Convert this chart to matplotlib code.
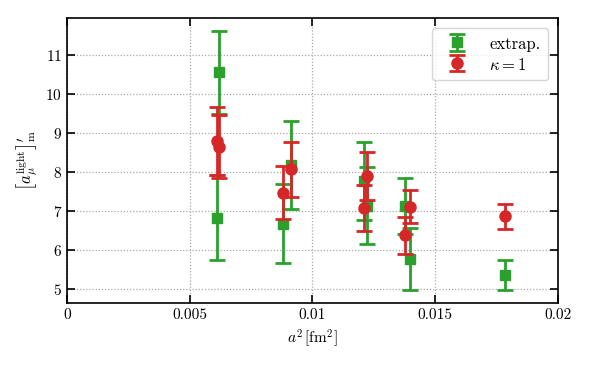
import numpy as np
import matplotlib
matplotlib.use('Agg')
import matplotlib.pyplot as plt
from matplotlib.ticker import FormatStrFormatter

# a^2 in fm^2 and values
a2_extrap = [0.00619, 0.00610, 0.00881, 0.00912, 0.01211, 0.01221, 0.01377, 0.01397, 0.01784]
val_extrap = [10.55, 6.83, 6.67, 8.18, 7.77, 7.13, 7.13, 5.76, 5.36]
err_extrap = [1.07, 1.09, 1.01, 1.13, 1.01, 0.99, 0.72, 0.79, 0.38]

a2_k1 = [0.00610, 0.00620, 0.00881, 0.00912, 0.01211, 0.01221, 0.01377, 0.01397, 0.01784]
val_k1 = [8.80, 8.65, 7.47, 8.07, 7.08, 7.90, 6.37, 7.11, 6.86]
err_k1 = [0.87, 0.81, 0.68, 0.71, 0.59, 0.62, 0.47, 0.42, 0.33]

xticks = [0, 0.005, 0.01, 0.015, 0.02]
yticks = [5, 6, 7, 8, 9, 10, 11]

plt.rcParams['font.family'] = 'serif'
plt.rcParams['font.serif'] = ['cmr10', 'DejaVu Serif']
plt.rcParams['mathtext.fontset'] = 'cm'
plt.rcParams['axes.formatter.use_mathtext'] = True
plt.rcParams['font.size'] = 11

fig = plt.figure(figsize=(5.91, 3.65), dpi=100)
ax = fig.add_axes([0.1134, 0.170, 0.8306, 0.781])

ax.errorbar(a2_extrap, val_extrap, yerr=err_extrap, fmt='s', color='#2ca02c',
            ms=7, elinewidth=2, capsize=6, capthick=2, label='extrap.', zorder=3)
ax.errorbar(a2_k1, val_k1, yerr=err_k1, fmt='o', color='#d62728',
            ms=8, elinewidth=2, capsize=6, capthick=2, label=r'$\kappa=1$', zorder=4)

ax.set_xlim(0, 0.02)
ax.set_ylim(4.64, 11.95)
ax.set_xticks(xticks)
ax.set_yticks(yticks)
ax.xaxis.set_major_formatter(FormatStrFormatter('%g'))
ax.tick_params(direction='in', top=True, right=True, length=6, width=1.2)
ax.grid(True, linestyle=(0, (1, 1.5)), color='#aaaaaa', linewidth=0.9)
for s in ax.spines.values():
    s.set_linewidth(1.2)

ax.set_xlabel(r'$a^2\,[\mathrm{fm}^2]$')
ax.set_ylabel(r'$\left[a_\mu^{\mathrm{light}}\right]^\prime_{\mathrm{m}}$', fontsize=12)

ax.legend(loc='upper right', fontsize=12, handlelength=2.2, handleheight=1.1,
          labelspacing=0.25, borderpad=0.45, borderaxespad=0.6)

fig.savefig('out.png', dpi=100)
